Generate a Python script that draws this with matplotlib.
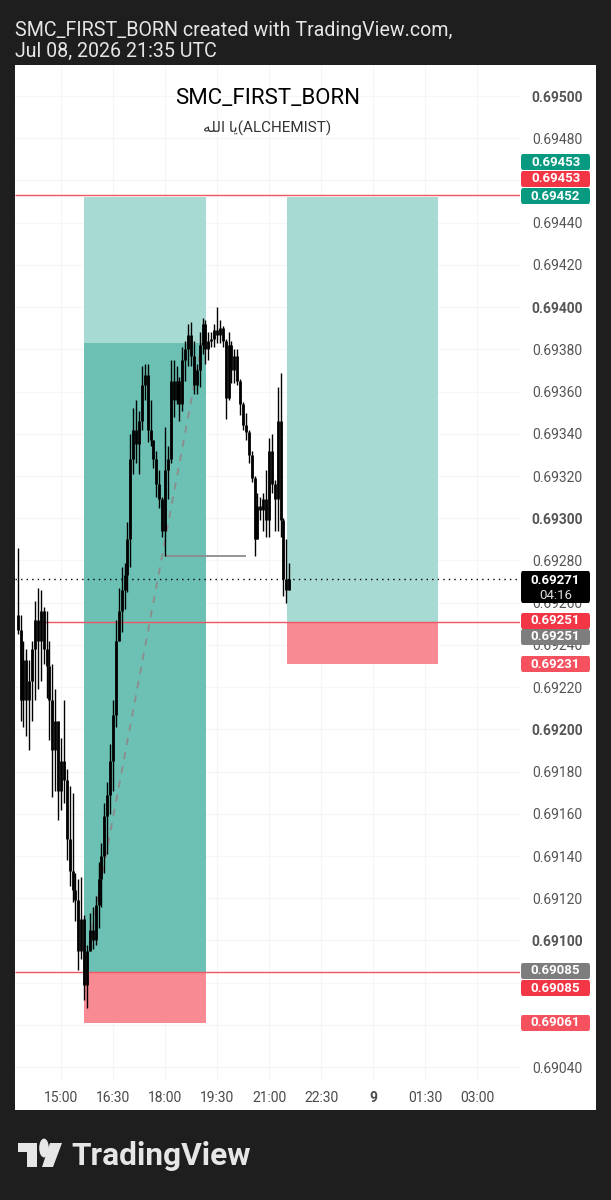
import matplotlib
matplotlib.use("Agg")
import matplotlib.pyplot as plt
from matplotlib.patches import Rectangle, FancyBboxPatch, Polygon, Circle

plt.rcParams['font.family'] = ['Roboto', 'DejaVu Sans']

# ---------------- data (5-minute candles, minutes relative to 15:00) ----------------
opens = [0.69254, 0.69247, 0.69214, 0.69233, 0.69214, 0.69223, 0.69238, 0.69252, 0.69242, 0.69256,
         0.69238, 0.69230, 0.69214, 0.69190, 0.69204, 0.69171, 0.69185, 0.69176, 0.69148, 0.69133,
         0.69124, 0.69119, 0.69095, 0.69110, 0.69079, 0.69095, 0.69105, 0.69100, 0.69117, 0.69129,
         0.69140, 0.69159, 0.69169, 0.69185, 0.69207, 0.69242, 0.69256, 0.69266, 0.69273, 0.69290,
         0.69328, 0.69342, 0.69335, 0.69346, 0.69363, 0.69368, 0.69342, 0.69337, 0.69328, 0.69316,
         0.69309, 0.69294, 0.69323, 0.69328, 0.69365, 0.69356, 0.69365, 0.69354, 0.69375, 0.69380,
         0.69387, 0.69377, 0.69363, 0.69370, 0.69382, 0.69392, 0.69380, 0.69384, 0.69385, 0.69389,
         0.69387, 0.69390, 0.69384, 0.69357, 0.69382, 0.69370, 0.69377, 0.69365, 0.69354, 0.69344,
         0.69341, 0.69330, 0.69319, 0.69290, 0.69306, 0.69304, 0.69309, 0.69299, 0.69332, 0.69316,
         0.69309, 0.69346, 0.69299, 0.69271, 0.69266]
highs = [0.69286, 0.69254, 0.69242, 0.69238, 0.69233, 0.69242, 0.69261, 0.69267, 0.69266, 0.69258,
         0.69256, 0.69242, 0.69231, 0.69219, 0.69204, 0.69196, 0.69214, 0.69181, 0.69173, 0.69170,
         0.69132, 0.69129, 0.69130, 0.69112, 0.69098, 0.69113, 0.69116, 0.69121, 0.69137, 0.69146,
         0.69165, 0.69175, 0.69193, 0.69214, 0.69252, 0.69267, 0.69277, 0.69279, 0.69298, 0.69340,
         0.69352, 0.69356, 0.69351, 0.69372, 0.69373, 0.69373, 0.69356, 0.69337, 0.69332, 0.69323,
         0.69310, 0.69343, 0.69334, 0.69375, 0.69375, 0.69372, 0.69367, 0.69381, 0.69384, 0.69392,
         0.69393, 0.69384, 0.69373, 0.69388, 0.69395, 0.69394, 0.69388, 0.69388, 0.69392, 0.69400,
         0.69394, 0.69391, 0.69385, 0.69388, 0.69384, 0.69380, 0.69380, 0.69366, 0.69355, 0.69350,
         0.69342, 0.69332, 0.69320, 0.69312, 0.69310, 0.69312, 0.69323, 0.69338, 0.69340, 0.69318,
         0.69362, 0.69369, 0.69300, 0.69290, 0.69279]
lows = [0.69245, 0.69204, 0.69201, 0.69197, 0.69190, 0.69204, 0.69214, 0.69219, 0.69223, 0.69231,
        0.69215, 0.69195, 0.69168, 0.69171, 0.69157, 0.69162, 0.69165, 0.69138, 0.69126, 0.69118,
        0.69109, 0.69086, 0.69091, 0.69072, 0.69068, 0.69095, 0.69096, 0.69098, 0.69106, 0.69116,
        0.69132, 0.69141, 0.69160, 0.69171, 0.69201, 0.69242, 0.69246, 0.69257, 0.69265, 0.69277,
        0.69321, 0.69326, 0.69321, 0.69342, 0.69356, 0.69336, 0.69334, 0.69324, 0.69310, 0.69305,
        0.69291, 0.69282, 0.69309, 0.69326, 0.69348, 0.69354, 0.69346, 0.69351, 0.69365, 0.69372,
        0.69372, 0.69359, 0.69359, 0.69362, 0.69378, 0.69373, 0.69375, 0.69381, 0.69381, 0.69383,
        0.69383, 0.69381, 0.69347, 0.69356, 0.69364, 0.69364, 0.69363, 0.69349, 0.69342, 0.69337,
        0.69326, 0.69317, 0.69282, 0.69290, 0.69299, 0.69294, 0.69291, 0.69291, 0.69312, 0.69294,
        0.69294, 0.69291, 0.69263, 0.69260, 0.69266]
closes = [0.69247, 0.69214, 0.69233, 0.69214, 0.69223, 0.69238, 0.69252, 0.69242, 0.69256, 0.69238,
          0.69230, 0.69214, 0.69190, 0.69204, 0.69171, 0.69185, 0.69176, 0.69148, 0.69133, 0.69124,
          0.69119, 0.69095, 0.69110, 0.69079, 0.69095, 0.69105, 0.69100, 0.69117, 0.69129, 0.69140,
          0.69159, 0.69169, 0.69185, 0.69207, 0.69242, 0.69256, 0.69266, 0.69273, 0.69290, 0.69328,
          0.69342, 0.69335, 0.69346, 0.69363, 0.69368, 0.69342, 0.69337, 0.69328, 0.69316, 0.69309,
          0.69294, 0.69323, 0.69328, 0.69365, 0.69356, 0.69365, 0.69354, 0.69375, 0.69380, 0.69387,
          0.69377, 0.69363, 0.69370, 0.69382, 0.69392, 0.69380, 0.69384, 0.69385, 0.69389, 0.69387,
          0.69390, 0.69384, 0.69357, 0.69382, 0.69370, 0.69377, 0.69365, 0.69354, 0.69344, 0.69341,
          0.69330, 0.69319, 0.69290, 0.69306, 0.69304, 0.69309, 0.69299, 0.69332, 0.69316, 0.69309,
          0.69346, 0.69299, 0.69271, 0.69266, 0.69271]
first_bar_minute = -75   # 13:45
bar_minutes = 5

time_tick_minutes = [0, 90, 180, 270, 360, 450, 540, 630, 720]
time_tick_labels = ["15:00", "16:30", "18:00", "19:30", "21:00", "22:30", "9", "01:30", "03:00"]
price_ticks = [0.6904, 0.6906, 0.6908, 0.6910, 0.6912, 0.6914, 0.6916, 0.6918, 0.6920, 0.6922,
               0.6924, 0.6926, 0.6928, 0.6930, 0.6932, 0.6934, 0.6936, 0.6938, 0.6940, 0.6942,
               0.6944, 0.6946, 0.6948, 0.6950]
bold_price_ticks = [0.6910, 0.6920, 0.6930, 0.6940, 0.6950]
hidden_price_ticks = [0.6906, 0.6908, 0.6946]   # covered by price tags

# long position 1 (closed in profit region)
pos1_start, pos1_end = 40, 251
pos1_entry, pos1_target, pos1_stop, pos1_best = 0.69085, 0.69452, 0.69061, 0.69383
# long position 2 (open)
pos2_start, pos2_end = 391, 652
pos2_entry, pos2_target, pos2_stop = 0.69251, 0.69452, 0.69231

level_prices = [0.69453, 0.69251, 0.69085]
level_starts = [-80, -40, -80]
last_price = 0.69271
swing_low_price, swing_t0, swing_t1 = 0.69282, 180, 320
path_t = [40, 244]
path_p = [0.69085, 0.69383]

# right-axis price tags: (pixel row, text, colour)
tags = [(162, "0.69453", "#089981"), (179, "0.69453", "#f23645"), (196, "0.69452", "#089981"),
        (621, "0.69251", "#f23645"), (637, "0.69251", "#7d7d7d"), (664, "0.69231", "#f5515f"),
        (971, "0.69085", "#7d7d7d"), (988, "0.69085", "#f23645"), (1023, "0.69061", "#f5515f")]

# ---------------- figure ----------------
W, H = 611, 1200
fig = plt.figure(figsize=(W / 100, H / 100), dpi=100, facecolor="#1e1e1e")


def fx(px):
    return px / W


def fy(py):
    return 1 - py / H


fig.patches.append(Rectangle((fx(15), fy(1110)), (596 - 15) / W, (1110 - 65) / H,
                             transform=fig.transFigure, facecolor="white", edgecolor="none", zorder=-1))

ax = fig.add_axes([fx(15), fy(1080), (520 - 15) / W, (1080 - 65) / H])
ax.set_facecolor("none")
for s in ax.spines.values():
    s.set_visible(False)
ax.set_xlim(-79.6, 794.4)
ax.set_ylim(0.690339, 0.695147)
ax.set_axisbelow(True)

ax.set_yticks(price_ticks)
ax.set_yticklabels([f"{p:.5f}" for p in price_ticks])
ax.yaxis.tick_right()
ax.tick_params(axis="y", length=0, pad=8.5, labelsize=10, labelcolor="#555555")
for v, lbl in zip(price_ticks, ax.get_yticklabels()):
    if any(abs(v - b) < 1e-7 for b in bold_price_ticks):
        lbl.set_fontweight("bold")
    if any(abs(v - b) < 1e-7 for b in hidden_price_ticks):
        lbl.set_visible(False)
ax.set_xticks(time_tick_minutes)
ax.set_xticklabels(time_tick_labels)
ax.tick_params(axis="x", length=0, pad=8, labelsize=10, labelcolor="#4a4a4a")
for lbl in ax.get_xticklabels():
    if lbl.get_text() == "9":
        lbl.set_fontweight("bold")
ax.grid(True, color="#f5f5f5", lw=0.8)

light_teal = "#a6dad2"
dark_teal = "#6cc1b4"
stop_red = "#f88a94"

# position 1
ax.add_patch(Rectangle((pos1_start, pos1_entry), pos1_end - pos1_start, pos1_target - pos1_entry,
                       facecolor=light_teal, edgecolor="none", zorder=1))
ax.add_patch(Rectangle((pos1_start, pos1_entry), pos1_end - pos1_start, pos1_best - pos1_entry,
                       facecolor=dark_teal, edgecolor="none", zorder=1.1))
ax.add_patch(Rectangle((pos1_start, pos1_stop), pos1_end - pos1_start, pos1_entry - pos1_stop,
                       facecolor=stop_red, edgecolor="none", zorder=1))
# position 2
ax.add_patch(Rectangle((pos2_start, pos2_entry), pos2_end - pos2_start, pos2_target - pos2_entry,
                       facecolor=light_teal, edgecolor="none", zorder=1))
ax.add_patch(Rectangle((pos2_start, pos2_stop), pos2_end - pos2_start, pos2_entry - pos2_stop,
                       facecolor=stop_red, edgecolor="none", zorder=1))

ax.hlines(level_prices, level_starts, 794.4, color="#ef5663", lw=1.0, zorder=3)
ax.plot(path_t, path_p, color="#8c8c8c", lw=1.3, ls=(0, (4, 4)), zorder=3)
ax.hlines(swing_low_price, swing_t0, swing_t1, color="#8c8c8c", lw=1.3, zorder=3)

times = [first_bar_minute + bar_minutes * i for i in range(len(closes))]
ax.vlines(times, lows, highs, color="black", lw=1.0, zorder=4)
ax.vlines(times, [min(o, c) for o, c in zip(opens, closes)],
          [max(o, c) for o, c in zip(opens, closes)], color="black", lw=2.0, zorder=4)
ax.axhline(last_price, color="black", lw=1.0, ls=(0, (1, 3)), zorder=5)

# price tags on the right
for row, txt, col in tags:
    fig.patches.append(FancyBboxPatch((fx(521), fy(row + 8)), 69 / W, 16 / H,
                                      boxstyle="round,pad=0,rounding_size=0.003",
                                      transform=fig.transFigure, facecolor=col, edgecolor="none", zorder=2))
    fig.text(fx(555.5), fy(row), txt, color="white", fontsize=9.5, fontweight="bold",
             ha="center", va="center", zorder=3)
fig.patches.append(FancyBboxPatch((fx(521), fy(603)), 69 / W, 32 / H,
                                  boxstyle="round,pad=0,rounding_size=0.003",
                                  transform=fig.transFigure, facecolor="black", edgecolor="none", zorder=2))
fig.text(fx(555.5), fy(580), f"{last_price:.5f}", color="white", fontsize=9.5, fontweight="bold",
         ha="center", va="center", zorder=3)
fig.text(fx(555.5), fy(596), "04:16", color="#dddddd", fontsize=9.5,
         ha="center", va="center", zorder=3)

# titles
fig.text(fx(267.5), fy(98), "SMC_FIRST_BORN", fontsize=16, color="black", ha="center", va="center")
arabic = "\uFEEA\uFEE0\uFEDF\uFE8D \uFE8E\uFEF3"
fig.text(fx(267.5), fy(128), arabic + "(ALCHEMIST)", fontsize=11, color="#333333",
         ha="center", va="center")
fig.text(fx(15), fy(30), "SMC_FIRST_BORN created with TradingView.com,", fontsize=14.1,
         color="#e6e6e6", ha="left", va="center")
fig.text(fx(15), fy(51), "Jul 08, 2026 21:35 UTC", fontsize=14.1, color="#e6e6e6",
         ha="left", va="center")

# TradingView logo
logo_col = "#e6e6e6"
fig.patches.append(Polygon([(fx(17.5), fy(1143)), (fx(37), fy(1143)), (fx(37), fy(1167)),
                            (fx(27), fy(1167)), (fx(27), fy(1152)), (fx(17.5), fy(1152))],
                           closed=True, transform=fig.transFigure, facecolor=logo_col, edgecolor="none"))
fig.patches.append(Circle((fx(44), fy(1148)), 4.8 / W, transform=fig.transFigure,
                          facecolor=logo_col, edgecolor="none"))
fig.patches.append(Polygon([(fx(50), fy(1143)), (fx(62), fy(1143)), (fx(53), fy(1167)), (fx(42), fy(1167))],
                           closed=True, transform=fig.transFigure, facecolor=logo_col, edgecolor="none"))
fig.text(fx(71), fy(1156), "TradingView", fontsize=22.8, fontweight="bold", color=logo_col,
         ha="left", va="center")

fig.savefig("out.png", dpi=100, facecolor=fig.get_facecolor())
